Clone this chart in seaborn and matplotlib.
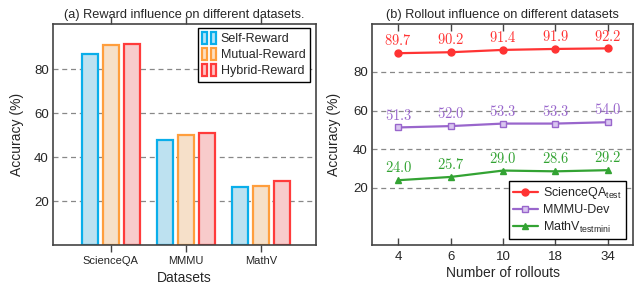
import pandas as pd
import matplotlib.pyplot as plt
import seaborn as sns
from matplotlib.patches import Rectangle
from matplotlib.legend_handler import HandlerTuple

# ==============================
#            Data
# ==============================
datasets = ['ScienceQA', 'MMMU', 'MathV']
methods = ['Self-Reward', 'Mutual-Reward', 'Hybrid-Reward']
self_reward = [86.8, 47.7, 26.2]
mutual_reward = [91.0, 50.0, 26.7]
hybrid_reward = [91.5, 51.0, 29.0]

rollouts = ['4', '6', '10', '18', '34']
scienceqa = [89.7, 90.2, 91.4, 91.9, 92.2]
mmmu = [51.3, 52.0, 53.3, 53.3, 54.0]
mathv = [24.0, 25.7, 29.0, 28.6, 29.2]
line_labels = ['ScienceQA$_{\\mathrm{test}}$', 'MMMU-Dev', 'MathV$_{\\mathrm{testmini}}$']

bar_faces = ['#b5e4f8', '#fde0c2', '#ffc4c4']
bar_edges = ['#0aaeea', '#ff9e3d', '#ff3b3b']
line_colors = ['#ff3333', '#9966cc', '#33a333']
line_markers = ['o', 's', '^']

sns.set_style('white')
plt.rcParams['font.family'] = ['Liberation Sans', 'DejaVu Sans']
plt.rcParams['mathtext.fontset'] = 'custom'
plt.rcParams['mathtext.rm'] = 'Liberation Sans'
plt.rcParams['mathtext.it'] = 'Liberation Sans:italic'

fig = plt.figure(figsize=(6.37, 2.86), dpi=100)
ax1 = fig.add_axes([53 / 637, 41 / 286, 263 / 637, 221 / 286])
ax2 = fig.add_axes([372 / 637, 41 / 286, 261 / 637, 221 / 286])

spine_color = '#444444'


def style_axes(ax):
    for s in ax.spines.values():
        s.set_color(spine_color)
        s.set_linewidth(1.2)
    ax.set_yticks([20, 40, 60, 80])
    ax.yaxis.grid(True, linestyle=(0, (4, 3)), color='#888888', linewidth=0.9)
    ax.xaxis.grid(False)
    ax.set_axisbelow(True)


# ==============================
#   (a) Reward influence bars
# ==============================
bar_df = pd.DataFrame({
    'Dataset': datasets * 3,
    'Method': [m for m in methods for _ in datasets],
    'Accuracy': self_reward + mutual_reward + hybrid_reward,
})
sns.barplot(data=bar_df, x='Dataset', y='Accuracy', hue='Method',
            palette=bar_faces, width=0.84, gap=0.25, ax=ax1,
            linewidth=1.6, legend=False)
for container, edge in zip(ax1.containers, bar_edges):
    for bar in container:
        bar.set_edgecolor(edge)

style_axes(ax1)
ax1.set_ylim(0, 100.5)
ax1.set_xlim(-0.77, 2.73)
ax1.set_xlabel('Datasets', fontsize=10)
ax1.set_ylabel('Accuracy (%)', fontsize=10)
ax1.xaxis.set_label_coords(0.5, -0.118)
ax1.yaxis.set_label_coords(-0.11, 0.5)
ax1.tick_params(axis='x', which='both', direction='out', length=5, width=1,
                color=spine_color, labelsize=8, top=True, bottom=True, pad=3)
ax1.tick_params(axis='y', length=0, labelsize=9.5, pad=3)
ax1.set_title('(a) Reward influence on different datasets.', fontsize=9.2, pad=4.5)

handles = []
for f, e in zip(bar_faces, bar_edges):
    handles.append((Rectangle((0, 0), 1, 1, facecolor=f, edgecolor=e, lw=1.6),
                    Rectangle((0, 0), 1, 1, facecolor=f, edgecolor=e, lw=1.6)))
leg1 = ax1.legend(handles, methods, loc='upper right', bbox_to_anchor=(0.977, 0.982),
                  borderaxespad=0, fontsize=9, fancybox=False, framealpha=1,
                  edgecolor='black', handlelength=1.1, handleheight=1.0,
                  handletextpad=0.4, labelspacing=0.25, borderpad=0.35,
                  handler_map={tuple: HandlerTuple(ndivide=None, pad=0.35)})
leg1.get_frame().set_linewidth(1.0)

# ==============================
#   (b) Rollout influence lines
# ==============================
for vals, lab, c, m in zip([scienceqa, mmmu, mathv], line_labels, line_colors, line_markers):
    line_df = pd.DataFrame({'Rollouts': rollouts, 'Accuracy': vals})
    face = '#d9c6f0' if m == 's' else c
    sns.lineplot(data=line_df, x='Rollouts', y='Accuracy', ax=ax2, color=c,
                 marker=m, markersize=5, markerfacecolor=face, markeredgecolor=c,
                 markeredgewidth=1.0, linewidth=1.6, label=lab, sort=False)
    for i, v in enumerate(vals):
        ax2.annotate(f'${v:.1f}$', (i, v), xytext=(0, 3.5), textcoords='offset points',
                     ha='center', va='bottom', color=c, fontsize=10.5,
                     math_fontfamily='cm')

style_axes(ax2)
ax2.set_ylim(-9.5, 104.8)
ax2.set_xlim(-0.5, 4.48)
ax2.set_xlabel('Number of rollouts', fontsize=10)
ax2.set_ylabel('Accuracy (%)', fontsize=10)
ax2.xaxis.set_label_coords(0.5, -0.095)
ax2.yaxis.set_label_coords(-0.119, 0.5)
ax2.set_title('(b) Rollout influence on different datasets', fontsize=9.2, pad=4.5)
ax2.tick_params(axis='x', direction='in', length=5, width=1, color=spine_color,
                labelsize=9.5, top=True, bottom=True, pad=4)
ax2.tick_params(axis='y', length=0, labelsize=9.5, pad=3)

leg2 = ax2.legend(loc='lower right', bbox_to_anchor=(0.973, 0.027), borderaxespad=0,
                  fontsize=9, fancybox=False, framealpha=1, edgecolor='black',
                  handlelength=2.0, handletextpad=0.4, labelspacing=0.25, borderpad=0.35)
leg2.get_frame().set_linewidth(1.0)

fig.savefig('out.png', dpi=100)
